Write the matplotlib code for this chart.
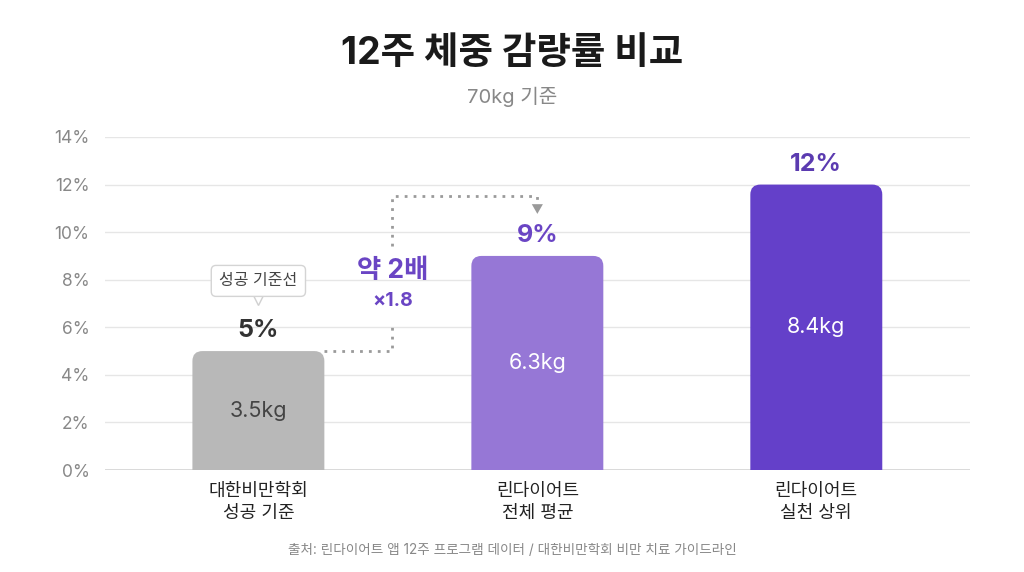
import matplotlib.pyplot as plt
from matplotlib.patches import FancyBboxPatch

plt.rcParams['font.family'] = ['Inter', 'Noto Sans CJK KR', 'DejaVu Sans']

categories = ['대한비만학회\n성공 기준', '린다이어트\n전체 평균', '린다이어트\n실천 상위']
loss_pct = [5, 9, 12]
loss_kg = ['3.5kg', '6.3kg', '8.4kg']
bar_colors = ['#b8b8b8', '#9677d6', '#6440c9']
pct_colors = ['#333333', '#6a45c4', '#5b3bb0']
kg_colors = ['#444444', 'white', 'white']
yticks = [0, 2, 4, 6, 8, 10, 12, 14]

fig = plt.figure(figsize=(10.24, 5.72), dpi=100)
ax = fig.add_axes([0.1025, 0.1783, 0.8445, 0.5822])

bars = ax.bar(range(len(loss_pct)), loss_pct, width=0.473, color='none')
for b, c in zip(bars, bar_colors):
    b.set_visible(False)
    p = FancyBboxPatch((b.get_x(), -1), b.get_width(), b.get_height() + 1,
                       boxstyle='round,pad=0,rounding_size=0.036',
                       mutation_aspect=11.7, fc=c, ec='none', zorder=3)
    ax.add_patch(p)

ax.set_xlim(-0.55, 2.55)
ax.set_ylim(0, 14)
ax.set_yticks(yticks)
ax.set_yticklabels([f'{t}%' for t in yticks], color='#888888', fontsize=12.5)
ax.set_xticks(range(len(categories)))
ax.set_xticklabels(categories, fontsize=13, color='#222222', linespacing=1.45)
ax.tick_params(length=0)
ax.tick_params(axis='y', pad=11)
ax.tick_params(axis='x', pad=9)
for s in ax.spines.values():
    s.set_visible(False)
ax.grid(axis='y', color='#e6e6e6', lw=1)
ax.axhline(0, color='#d4d4d4', lw=1.2, zorder=2)
ax.set_axisbelow(True)

for i, (v, kg) in enumerate(zip(loss_pct, loss_kg)):
    ax.text(i, v + 0.85, f'{v}%', ha='center', va='center', fontsize=18,
            fontweight='bold', color=pct_colors[i], zorder=5)
    ax.text(i, v / 2, kg, ha='center', va='center', fontsize=15.5,
            color=kg_colors[i], zorder=5)

# callout above baseline bar
ax.plot([0], [7.2], marker='v', ms=9, mfc='white', mec='#d0d0d0', mew=1, zorder=6)
ax.text(0, 7.95, '성공 기준선', ha='center', va='center', fontsize=11.5, color='#444444',
        zorder=7, bbox=dict(boxstyle='round,pad=0.5,rounding_size=0.3', fc='white',
                            ec='#d4d4d4', lw=1))

# dotted connector from bar 1 to bar 2
x_edge = bars[0].get_x() + bars[0].get_width()
x_mid = 0.48
y_top = 11.5
line_kw = dict(color='#9a9a9a', lw=2, ls=(0, (1, 2.2)), zorder=4)
ax.plot([x_edge, x_mid, x_mid], [loss_pct[0], loss_pct[0], 6.2], **line_kw)
ax.plot([x_mid, x_mid, 1, 1], [9.4, y_top, y_top, 11.1], **line_kw)
ax.annotate('', xy=(1, 10.65), xytext=(1, 11.15),
            arrowprops=dict(arrowstyle='-|>,head_length=0.7,head_width=0.4',
                            color='#9a9a9a', lw=0), zorder=4)
ax.text(x_mid, 8.35, '약 2배', ha='center', va='center', fontsize=19,
        fontweight='bold', color='#6a45c4')
ax.text(x_mid, 7.1, '×1.8', ha='center', va='center', fontsize=14,
        fontweight='bold', color='#6a45c4')

fig.text(0.5, 0.906, '12주 체중 감량률 비교', ha='center', va='center', fontsize=27,
         fontweight='bold', color='#1a1a1a')
fig.text(0.5, 0.830, '70kg 기준', ha='center', va='center', fontsize=14.5, color='#888888')
fig.text(0.5, 0.038, '출처: 린다이어트 앱 12주 프로그램 데이터 / 대한비만학회 비만 치료 가이드라인',
         ha='center', va='center', fontsize=9.8, color='#888888')

fig.savefig('out.png', dpi=100, facecolor='white')
